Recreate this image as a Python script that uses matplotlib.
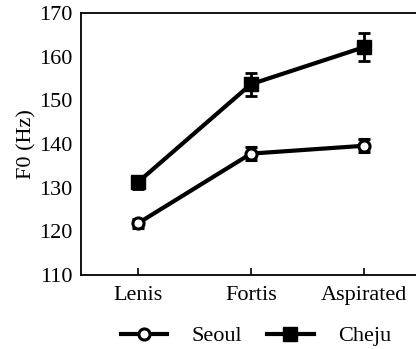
import matplotlib
matplotlib.use("Agg")
import matplotlib.pyplot as plt
from matplotlib.lines import Line2D

categories = ["Lenis", "Fortis", "Aspirated"]
seoul = [121.8, 137.8, 139.6]
seoul_err = [1.0, 1.5, 1.5]
cheju = [131.2, 153.7, 162.2]
cheju_err = [1.5, 2.6, 3.2]

plt.rcParams['font.family'] = ['Liberation Serif', 'DejaVu Serif']
fig = plt.figure(figsize=(4.16, 3.49), dpi=100)
ax = fig.add_axes([81/416, 1-275/349, 340/416, 262/349])
x = [0, 1, 2]
ax.errorbar(x, seoul, yerr=seoul_err, color='black', lw=3, marker='o', ms=8,
            mfc='white', mew=2.2, capsize=4, elinewidth=2, capthick=2)
ax.errorbar(x, cheju, yerr=cheju_err, color='black', lw=3, marker='s', ms=10,
            mfc='black', capsize=4, elinewidth=2, capthick=2)
ax.set_ylim(110, 170)
ax.set_xlim(-0.5, 2.5)
ax.set_yticks([110, 120, 130, 140, 150, 160, 170])
ax.tick_params(axis='y', length=0, labelsize=16, pad=6)
ax.set_xticks(x)
ax.set_xticklabels(categories)
ax.tick_params(axis='x', direction='in', length=5, width=1.2, labelsize=16, pad=8)
ax.spines['right'].set_visible(False)
for s in ['left', 'bottom', 'top']:
    ax.spines[s].set_linewidth(1.3)
ax.set_ylabel("F0 (Hz)", fontsize=16, labelpad=2)

handles = [Line2D([], [], color='black', lw=3, marker='o', ms=8, mfc='white', mew=2.2),
           Line2D([], [], color='black', lw=3, marker='s', ms=10, mfc='black')]
fig.legend(handles, ["Seoul", "Cheju"], loc='center', bbox_to_anchor=(256/416, 1-336/349),
           ncol=2, frameon=False, fontsize=16, handlelength=2.1, columnspacing=1.1,
           handletextpad=1.1)
fig.savefig("out.png", dpi=100)
